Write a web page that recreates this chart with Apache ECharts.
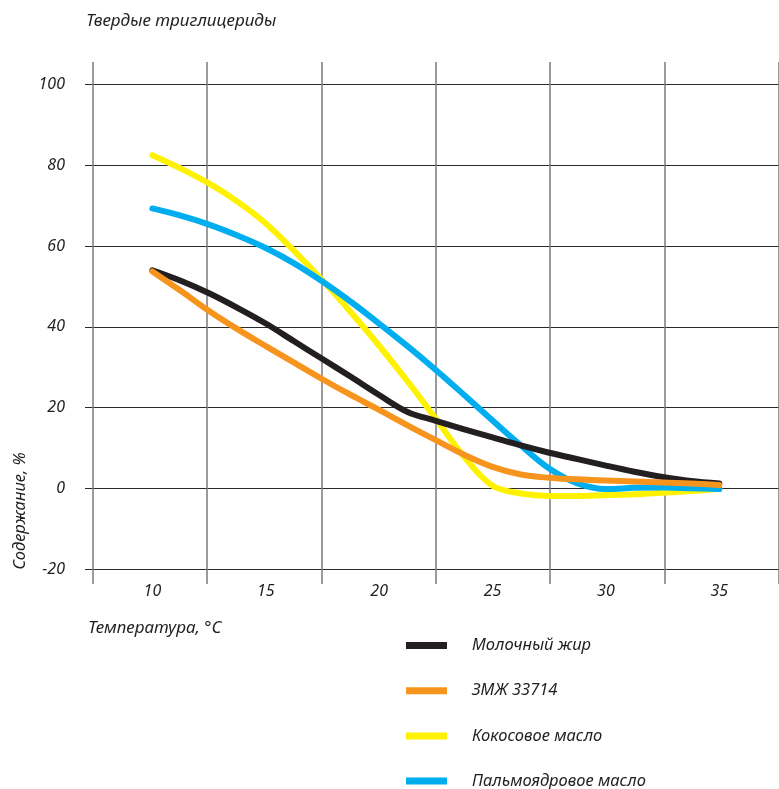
<!DOCTYPE html>
<html>
<head>
<meta charset="utf-8">
<script src="https://cdn.jsdelivr.net/npm/echarts@6/dist/echarts.min.js"></script>
<style>
html,body{margin:0;padding:0;background:#fff;}
#chart{width:779px;height:789px;}
</style>
</head>
<body>
<div id="chart"></div>
<script>
// ---- data ----
var seriesNames = ['Молочный жир', 'ЗМЖ 33714', 'Кокосовое масло', 'Пальмоядровое масло'];
var temps = [10, 11.25, 12.5, 13.75, 15, 16.25, 17.5, 18.75, 20, 21.25, 22.5, 23.75, 25, 26.25, 27.5, 28.75, 30, 31.25, 32.5, 33.75, 35];
var milkFat    = [54, 51.4, 48.3, 44.7, 40.8, 36.4, 32, 27.6, 23.1, 18.9, 16.7, 14.6, 12.6, 10.6, 8.8, 7.2, 5.6, 4.1, 2.8, 1.8, 1.2];
var zmzh       = [53.7, 48.9, 43.9, 39.4, 35.2, 31.1, 27, 23.1, 19.4, 15.6, 11.9, 8.3, 5.3, 3.4, 2.6, 2.2, 1.9, 1.7, 1.4, 1.2, 0.8];
var coconut    = [82.5, 79.2, 75.5, 71, 65.6, 58.8, 51.5, 43.6, 35.3, 26.5, 17.2, 7.8, 0.6, -1.3, -1.9, -1.9, -1.7, -1.5, -1.1, -0.7, -0.1];
var palmKernel = [69.3, 67.5, 65.3, 62.6, 59.5, 55.7, 51.2, 46.2, 40.8, 35.2, 29.3, 23.1, 16.8, 10.6, 4.9, 1.2, -0.2, 0.1, 0.2, 0, -0.2];
var xTickLabels = [10, 15, 20, 25, 30, 35];
var yTickLabels = [-20, 0, 20, 40, 60, 80, 100];
var titleText = 'Твердые триглицериды';
var yName = 'Содержание, %';
var xName = 'Температура, °C';

var colors = {
  'Молочный жир': '#231f20',
  'ЗМЖ 33714': '#f7941d',
  'Кокосовое масло': '#fff200',
  'Пальмоядровое масло': '#00aeef'
};
var FONT = '"Noto Sans", sans-serif';
var TXT = '#231f20';

function pairs(vals) {
  return temps.map(function (t, i) { return [t, vals[i]]; });
}

function lineSeries(name, vals) {
  return {
    type: 'line', name: name, data: pairs(vals),
    xAxisIndex: 0, yAxisIndex: 0,
    smooth: 0.35, showSymbol: false, symbol: 'none',
    lineStyle: { width: 6, color: colors[name], cap: 'round', join: 'round' },
    itemStyle: { color: colors[name] },
    z: 5
  };
}

var chart = echarts.init(document.getElementById('chart'), null, {renderer: 'canvas'});
chart.setOption({
  animation: false,
  backgroundColor: '#fff',
  title: {
    text: titleText, left: 86, top: 13, padding: 0,
    textStyle: { fontFamily: FONT, fontStyle: 'italic', fontWeight: 'normal', fontSize: 17, color: TXT }
  },
  grid: [
    { left: 95.7, right: -3.5, top: 84.5, bottom: 220 },   // data
    { left: 85, right: 0, top: 84.5, bottom: 220 },        // horizontal lines
    { left: 92.7, right: -0.5, top: 62, bottom: 205 }      // vertical lines
  ],
  xAxis: [
    { gridIndex: 0, type: 'value', min: 7.5, max: 37.5, interval: 2.5,
      axisLine: {show: false}, axisTick: {show: false}, splitLine: {show: false},
      axisLabel: { margin: 14, fontFamily: FONT, fontStyle: 'italic', fontSize: 16, color: TXT,
        formatter: function (v) { return xTickLabels.indexOf(v) >= 0 ? String(v) : ''; } } },
    { gridIndex: 1, type: 'value', min: 0, max: 1, show: false },
    { gridIndex: 2, type: 'value', min: 7.5, max: 37.5, interval: 5,
      axisLine: {show: false}, axisTick: {show: false}, axisLabel: {show: false},
      splitLine: { show: true, lineStyle: { color: '#7a7a7a', width: 1.5 } } }
  ],
  yAxis: [
    { gridIndex: 0, type: 'value', min: -20, max: 100, interval: 20, show: false },
    { gridIndex: 1, type: 'value', min: -20, max: 100, interval: 20,
      axisLine: {show: false}, axisTick: {show: false},
      splitLine: { show: true, lineStyle: { color: '#2a2a2a', width: 1.2 } },
      axisLabel: { margin: 20, fontFamily: FONT, fontStyle: 'italic', fontSize: 16, color: TXT,
        formatter: function (v) { return yTickLabels.indexOf(v) >= 0 ? String(v) : ''; } } },
    { gridIndex: 2, type: 'value', min: 0, max: 1, show: false }
  ],
  legend: {
    orient: 'vertical', left: 406, top: 637, padding: 0, height: 200, width: 370,
    data: seriesNames, icon: 'rect',
    itemWidth: 41, itemHeight: 7, itemGap: 28.2,
    textStyle: { fontFamily: FONT, fontStyle: 'italic', fontSize: 16.5, color: TXT, lineHeight: 16, padding: [0,0,0,20] }
  },
  graphic: [
    { type: 'text', left: 88, top: 620,
      style: { text: xName, font: 'italic 17px ' + FONT, fill: TXT } },
    { type: 'text', x: 20, y: 511, rotation: Math.PI / 2,
      style: { text: yName, font: 'italic 16.5px ' + FONT, fill: TXT, align: 'center', verticalAlign: 'middle' } }
  ],
  series: [
    lineSeries('Кокосовое масло', coconut),
    lineSeries('Пальмоядровое масло', palmKernel),
    lineSeries('Молочный жир', milkFat),
    lineSeries('ЗМЖ 33714', zmzh)
  ]
});
</script>
</body>
</html>
